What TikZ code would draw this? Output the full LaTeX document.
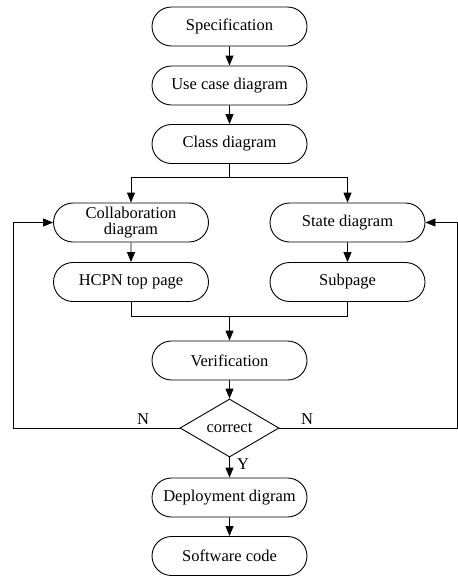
\documentclass[tikz,border=0pt]{standalone}
\usepackage{fontspec}
\setmainfont{Liberation Serif}
\usetikzlibrary{shapes.misc,shapes.geometric,arrows.meta}
\tikzset{
  pill/.style={rounded rectangle, draw, line width=0.9pt, minimum width=157pt,
    minimum height=39pt, inner sep=1pt, align=center,
    font=\fontsize{16.5}{19}\selectfont},
  decision/.style={diamond, draw, line width=0.9pt, minimum width=99pt,
    minimum height=58pt, inner sep=0pt, font=\fontsize{16.5}{19}\selectfont},
  flow/.style={line width=0.9pt, -{Triangle[length=10pt,width=8pt]}},
  wire/.style={line width=0.9pt},
  lbl/.style={font=\fontsize{16.5}{19}\selectfont, inner sep=0pt}
}
\begin{document}
\begin{tikzpicture}[x=1pt,y=-1pt]
\useasboundingbox (0,0) rectangle (458,576);
% main column
\node[pill] (spec)  at (229.5,26.5)  {Specification};
\node[pill] (usec)  at (229.5,85.5)  {Use case diagram};
\node[pill] (cls)   at (229.5,144)   {Class diagram};
% two branches
\node[pill] (collab) at (131,222.5)  {Collaboration\\[-3pt]diagram};
\node[pill] (state)  at (347.5,222.5) {State diagram};
\node[pill] (hcpn)   at (131,282)    {HCPN top page};
\node[pill] (sub)    at (347.5,282)  {Subpage};
% verification and outcome
\node[pill] (verif)  at (229.5,360.5) {Verification};
\node[decision] (ok) at (229.5,428)   {correct};
\node[pill] (deploy) at (229.5,497.5) {Deployment digram};
\node[pill] (code)   at (229.5,556)   {Software code};
% routing points
\coordinate (split) at (229.5,177);
\coordinate (join)  at (229.5,316);
\coordinate (lret)  at (13,428);
\coordinate (rret)  at (457.6,428);
% connectors
\draw[flow] (spec) -- (usec);
\draw[flow] (usec) -- (cls);
\draw[wire] (cls.south) -- (split);
\draw[flow] (split) -| (collab.north);
\draw[flow] (split) -| (state.north);
\draw[flow] (collab) -- (hcpn);
\draw[flow] (state) -- (sub);
\draw[wire] (hcpn.south) |- (join);
\draw[wire] (sub.south) |- (join);
\draw[flow] (join) -- (verif.north);
\draw[flow] (verif) -- (ok);
\draw[flow] (ok.south) -- (deploy.north);
\draw[flow] (deploy) -- (code);
\draw[flow] (ok.west) -- (lret) |- (collab.west);
\draw[flow] (ok.east) -- (rret) |- (state.east);
% branch labels
\node[lbl] (nl) at (143,419) {N};
\node[lbl] (nr) at (307,419) {N};
\node[lbl] (yy) at (243,464) {Y};
\end{tikzpicture}
\end{document}
